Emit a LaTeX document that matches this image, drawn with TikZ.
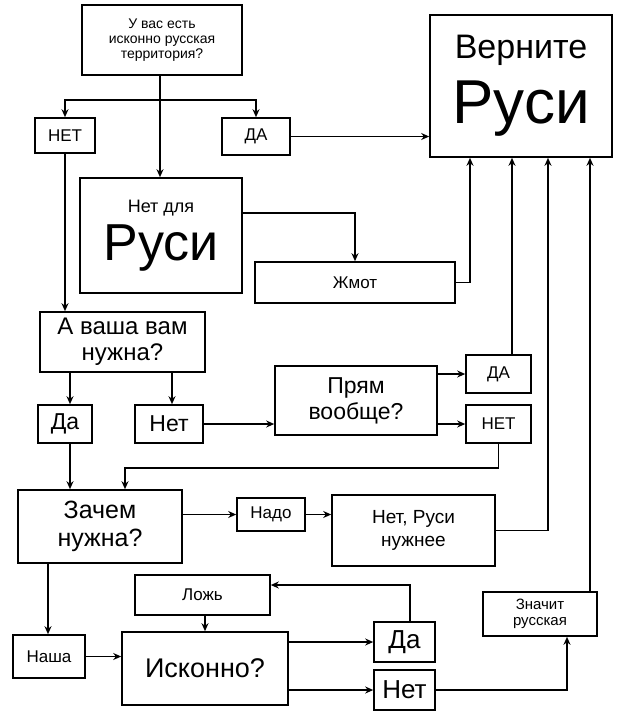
\documentclass[tikz,border=0pt]{standalone}
\usepackage{fontspec}
\setmainfont{Liberation Sans}
\usetikzlibrary{arrows.meta}
\begin{document}
\begin{tikzpicture}[x=1pt,y=-1pt,
  b/.style={draw,line width=1.6pt,align=center,inner sep=0pt,font=\fontsize{17}{19}\selectfont},
  a/.style={line width=1.4pt,-{Stealth[length=8pt,width=7pt]}},
  l/.style={line width=1.4pt}]
\useasboundingbox (0,0) rectangle (640,724);
\def\bx#1#2#3#4#5#6{\node[b,#6,minimum width={#4-#2},minimum height={#5-#3}] (#1) at ({(#2+#4)/2},{(#3+#5)/2})}
\bx{q}{82}{5}{242}{75}{font=\fontsize{14}{15}\selectfont}{У вас есть\\исконно русская\\территория?};
\bx{v}{430}{15}{612}{157}{}{\fontsize{34}{38}\selectfont Верните\\[14pt]\fontsize{62}{50}\selectfont Руси};
\bx{n1}{35}{118}{95}{153}{}{НЕТ};
\bx{d1}{222}{118}{290}{155}{}{ДА};
\bx{nr}{80}{178}{242}{293}{}{\fontsize{18}{20}\selectfont Нет для\\[8pt]\fontsize{52}{44}\selectfont Руси};
\bx{zh}{255}{262}{455}{303}{}{Жмот};
\bx{av}{40}{312}{205}{372}{font=\fontsize{24}{26}\selectfont}{А ваша вам\\нужна?};
\bx{da2}{38}{405}{92}{443}{font=\fontsize{23}{24}\selectfont}{Да};
\bx{ne2}{135}{405}{203}{443}{font=\fontsize{23}{24}\selectfont}{Нет};
\bx{pr}{275}{366}{437}{435}{font=\fontsize{23}{26}\selectfont}{Прям\\вообще?};
\bx{da3}{466}{355}{531}{393}{}{ДА};
\bx{ne3}{466}{405}{531}{443}{}{НЕТ};
\bx{zn}{18}{490}{182}{563}{font=\fontsize{25}{28}\selectfont}{Зачем\\нужна?};
\bx{nd}{237}{498}{305}{531}{}{Надо};
\bx{nn}{332}{495}{495}{566}{font=\fontsize{19}{23}\selectfont}{Нет, Руси\\нужнее};
\bx{lo}{135}{575}{270}{615}{}{Ложь};
\bx{na}{13}{635}{85}{678}{}{Наша};
\bx{is}{122}{632}{288}{705}{font=\fontsize{27}{30}\selectfont}{Исконно?};
\bx{da4}{374}{622}{435}{662}{font=\fontsize{26}{28}\selectfont}{Да};
\bx{ne4}{374}{670}{435}{710}{font=\fontsize{26}{28}\selectfont}{Нет};
\bx{zr}{483}{592}{597}{636}{font=\fontsize{15}{16}\selectfont}{Значит\\русская};
\coordinate (s1) at (160,100);
\draw[l] (q.south -| s1) -- (s1);
\draw[a] (s1) -| (n1.north);
\draw[a] (s1) -| (d1.north);
\draw[a] (s1) -- (nr.north -| s1);
\draw[a] (d1.east) -- (d1.east -| v.west);
\draw[a] (nr.east |- 0,213) -| (zh.north -| 355,0);
\draw[a] (zh.east) -| (v.south -| 470,0);
\draw[a] (n1.south -| 65,0) -- (av.north -| 65,0);
\draw[a] (av.south -| 70,0) -- (da2.north -| 70,0);
\draw[a] (av.south -| 172,0) -- (ne2.north -| 172,0);
\draw[a] (ne2.east) -- (pr.west |- ne2.east);
\draw[a] (pr.east |- da3.west) -- (da3.west);
\draw[a] (pr.east |- ne3.west) -- (ne3.west);
\draw[a] (da3.north -| 512,0) -- (v.south -| 512,0);
\draw[a] (ne3.south) |- (125,468) -- (zn.north -| 125,0);
\draw[a] (da2.south -| 70,0) -- (zn.north -| 70,0);
\draw[a] (zn.east |- nd.west) -- (nd.west);
\draw[a] (nd.east) -- (nn.west |- nd.east);
\draw[a] (nn.east) -| (v.south -| 548,0);
\draw[a] (zn.south -| 48,0) -- (na.north -| 48,0);
\draw[a] (na.east) -- (is.west |- na.east);
\draw[a] (is.east |- da4.west) -- (da4.west);
\draw[a] (is.east |- ne4.west) -- (ne4.west);
\draw[a] (da4.north -| 410,0) |- (lo.east |- 0,585);
\draw[a] (lo.south -| 205,0) -- (is.north -| 205,0);
\draw[a] (ne4.east) -| (zr.south -| 567,0);
\draw[a] (zr.north -| 590,0) -- (v.south -| 590,0);
\end{tikzpicture}
\end{document}
